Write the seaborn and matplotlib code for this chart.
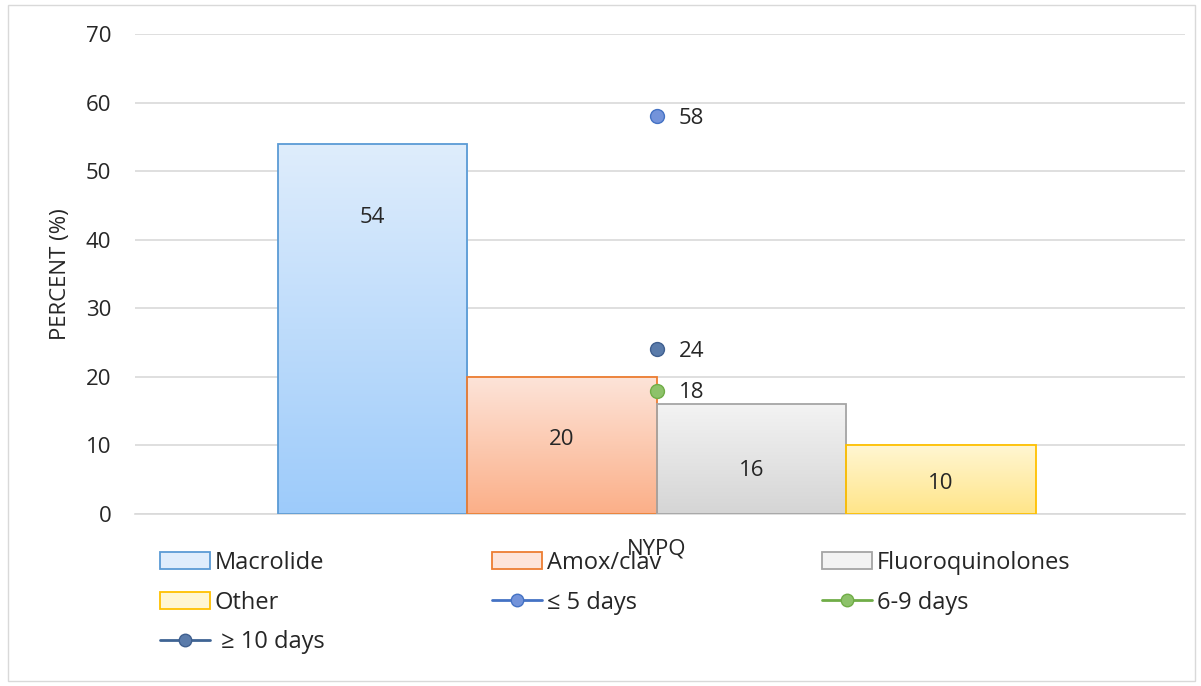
import numpy as np
import pandas as pd
import matplotlib
matplotlib.use("Agg")
import matplotlib.pyplot as plt
from matplotlib.patches import Rectangle, Patch
from matplotlib.lines import Line2D
from matplotlib.colors import LinearSegmentedColormap
import seaborn as sns

# ---- data ----
category = "NYPQ"
drugs = ["Macrolide", "Amox/clav", "Fluoroquinolones", "Other"]
drug_pct = [54, 20, 16, 10]
durations = ["\u2264 5 days", "6-9 days", "\u2265 10 days"]
duration_pct = [58, 18, 24]

# ---- styling ----
bar_top = ["#DFEDFC", "#FDE4D9", "#F3F3F3", "#FFF6D2"]
bar_bottom = ["#9DCBFA", "#FBAF88", "#D5D5D5", "#FFE589"]
bar_edge = ["#5B9BD5", "#ED7D31", "#A5A5A5", "#FFC000"]
label_frac = [0.80, 0.54, 0.40, 0.45]
dur_face = ["#7393DA", "#8DC26A", "#5A7BAA"]
dur_edge = ["#4472C4", "#70AD47", "#3F5F8F"]
dur_line = ["#4472C4", "#70AD47", "#3F6494"]

sns.set_theme(style="white")
plt.rcParams["font.family"] = ["Open Sans", "DejaVu Sans"]
text_color = "#262626"

fig = plt.figure(figsize=(12.01, 6.86), dpi=100)
fig.patches.append(Rectangle((8 / 1201, 1 - 681 / 686), 1187 / 1201, 676 / 686,
                             transform=fig.transFigure, fill=False,
                             edgecolor="#D9D9D9", linewidth=1.0))
ax = fig.add_axes([135 / 1201, 1 - 514 / 686, 1050 / 1201, 480 / 686])

df = pd.DataFrame({"cat": [category] * len(drugs), "drug": drugs, "pct": drug_pct})
sns.barplot(data=df, x="cat", y="pct", hue="drug", hue_order=drugs,
            palette=bar_edge, width=0.722, legend=False, ax=ax)

xlim = (-0.497, 0.503)
ax.set_ylim(0, 70)
ax.set_xlim(*xlim)

# gradient fill inside each bar
bars = sorted(ax.patches, key=lambda p: p.get_x())
for i, p in enumerate(bars):
    x0, w, h = p.get_x(), p.get_width(), p.get_height()
    p.set_facecolor("none")
    p.set_edgecolor(bar_edge[i])
    p.set_linewidth(1.3)
    p.set_zorder(3)
    cmap = LinearSegmentedColormap.from_list("g%d" % i, [bar_bottom[i], bar_top[i]])
    grad = np.linspace(0, 1, 256).reshape(-1, 1)
    im = ax.imshow(grad, cmap=cmap, aspect="auto", origin="lower",
                   extent=[x0, x0 + w, 0, h], zorder=2)
    im.set_clip_path(p)
    ax.text(x0 + w / 2, drug_pct[i] * label_frac[i], str(drug_pct[i]),
            ha="center", va="center", fontsize=16, color=text_color, zorder=5)

ax.set_xlim(*xlim)
ax.set_ylim(0, 70)

# single-point duration series at the category centre
xc = 0.0
for v, fc, ec, lc in zip(duration_pct, dur_face, dur_edge, dur_line):
    ax.plot([xc], [v], marker="o", markersize=10, markerfacecolor=fc,
            markeredgecolor=ec, markeredgewidth=1, color=lc, zorder=6)
    ax.text(xc + 0.021, v - 0.3, str(v), ha="left", va="center", fontsize=16,
            color=text_color, zorder=6)

ax.set_yticks(range(0, 71, 10))
ax.yaxis.grid(True, color="#D9D9D9", linewidth=1.2)
ax.set_axisbelow(True)
for s in ["top", "right", "left"]:
    ax.spines[s].set_visible(False)
ax.spines["bottom"].set_color("#D9D9D9")
ax.spines["bottom"].set_linewidth(1.2)
ax.tick_params(axis="y", length=0, pad=17, labelsize=16, labelcolor=text_color)
ax.tick_params(axis="x", length=0, pad=18, labelsize=16, labelcolor=text_color)
ax.set_xticks([0])
ax.set_xticklabels([category])
ax.set_xlabel("")
ax.set_ylabel("PERCENT (%)", fontsize=16, color=text_color)
ax.yaxis.set_label_coords(-64 / 1050, 0.5)

# legend, three columns laid out row by row
def bar_handle(i):
    return Patch(facecolor=bar_top[i], edgecolor=bar_edge[i], linewidth=1.3)

def line_handle(j):
    return Line2D([], [], color=dur_line[j], linewidth=2, marker="o", markersize=9,
                  markerfacecolor=dur_face[j], markeredgecolor=dur_edge[j])

entries = [
    (bar_handle(0), drugs[0]), (bar_handle(1), drugs[1]), (bar_handle(2), drugs[2]),
    (bar_handle(3), drugs[3]), (line_handle(0), durations[0]), (line_handle(1), durations[1]),
    (line_handle(2), " " + durations[2]),
]
col_x = [160, 492, 822]
for c in range(3):
    items = entries[c::3]
    fig.legend([h for h, _ in items], [t for _, t in items], loc="upper left",
               bbox_to_anchor=(col_x[c] / 1201, 1 - 551 / 686), frameon=False,
               fontsize=17, handlelength=2.1, handleheight=0.75, handletextpad=0.22,
               labelspacing=0.66, borderaxespad=0, borderpad=0,
               labelcolor=text_color)

fig.savefig("out.png", dpi=100, facecolor="white")
